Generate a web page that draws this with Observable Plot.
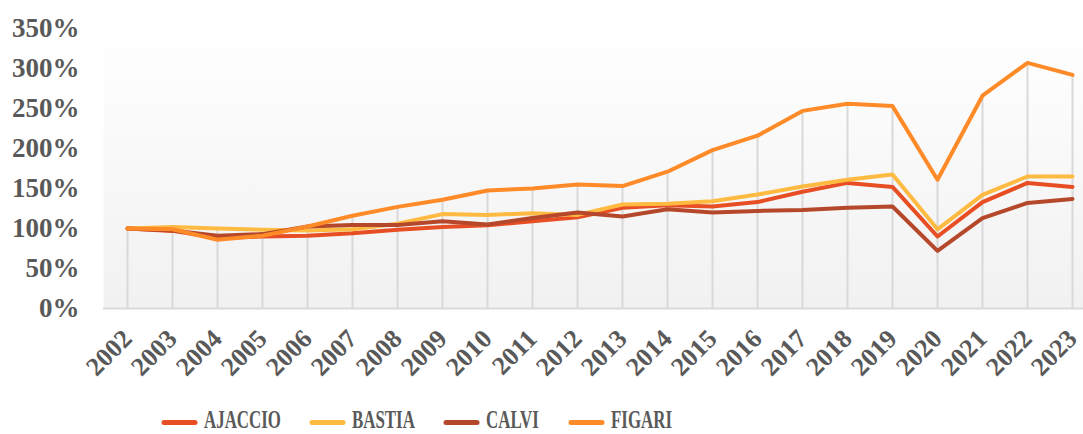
<!DOCTYPE html>
<html>
<head>
<meta charset="utf-8">
<script src="https://cdn.jsdelivr.net/npm/d3@7"></script>
<script src="https://cdn.jsdelivr.net/npm/@observablehq/plot@0.6"></script>
<style>
  html, body { margin: 0; padding: 0; background: #fff; }
  #wrap { position: relative; width: 1083px; height: 434px; overflow: hidden; }
  #chart svg { display: block; }
  #legend { position: absolute; left: 0; top: 404px; }
</style>
</head>
<body>
<div id="wrap">
  <div id="chart"></div>
  <svg id="legend" width="1083" height="30"></svg>
</div>
<script>
const years = [2002, 2003, 2004, 2005, 2006, 2007, 2008, 2009, 2010, 2011, 2012, 2013, 2014, 2015, 2016, 2017, 2018, 2019, 2020, 2021, 2022, 2023];
const seriesNames = ["AJACCIO", "BASTIA", "CALVI", "FIGARI"];
const ajaccio = [1.00, 0.97, 0.88, 0.90, 0.91, 0.94, 0.985, 1.02, 1.04, 1.09, 1.14, 1.26, 1.29, 1.275, 1.33, 1.46, 1.57, 1.52, 0.90, 1.33, 1.57, 1.52];
const bastia  = [1.00, 1.02, 1.00, 0.985, 0.975, 0.99, 1.06, 1.18, 1.17, 1.19, 1.17, 1.30, 1.31, 1.34, 1.425, 1.525, 1.61, 1.675, 0.99, 1.42, 1.65, 1.65];
const calvi   = [1.00, 0.975, 0.91, 0.93, 1.025, 1.045, 1.045, 1.09, 1.05, 1.13, 1.20, 1.15, 1.24, 1.20, 1.22, 1.23, 1.26, 1.275, 0.72, 1.13, 1.32, 1.37];
const figari  = [1.00, 0.99, 0.86, 0.91, 1.025, 1.16, 1.27, 1.36, 1.475, 1.50, 1.55, 1.53, 1.71, 1.98, 2.16, 2.47, 2.56, 2.53, 1.61, 2.66, 3.07, 2.92];
const yTicks = [0, 0.5, 1, 1.5, 2, 2.5, 3, 3.5];
const colors = ["#E84E23", "#FFBA42", "#B5482A", "#FF8A28"];

const seriesValues = [ajaccio, bastia, calvi, figari];
const data = [];
seriesNames.forEach((name, i) => {
  years.forEach((yr, j) => data.push({series: name, year: yr, value: seriesValues[i][j]}));
});
const drops = years.map((yr, j) => ({year: yr, top: d3.max(seriesValues, s => s[j])}));

const chart = Plot.plot({
  width: 1083,
  height: 404,
  marginLeft: 103,
  marginRight: 0,
  marginTop: 28,
  marginBottom: 96,
  style: { fontFamily: "'Liberation Serif', 'Times New Roman', serif", fontWeight: "bold", fontSize: "27px", color: "#595959", background: "#fff" },
  x: { type: "point", domain: years, range: [126, 1073], padding: 0 },
  y: { domain: [0, 3.5] },
  color: { domain: seriesNames, range: colors },
  marks: [
    Plot.frame({ fill: "url(#bgGrad)", stroke: "none" }),
    Plot.ruleX(drops, { x: "year", y1: 0, y2: "top", stroke: "#d9d9d9", strokeWidth: 2 }),
    Plot.ruleY([0], { stroke: "#d9d9d9", strokeWidth: 2 }),
    Plot.axisY(yTicks, { tickSize: 0, tickPadding: 24, tickFormat: d => Math.round(d * 100) + "%", fontSize: 27, label: null }),
    Plot.axisX(years, { tickSize: 0, tickPadding: 26, tickRotate: -45, tickFormat: d => String(d), fontSize: 26, label: null }),
    Plot.line(data, { x: "year", y: "value", z: "series", stroke: "series", strokeWidth: 4, strokeLinejoin: "round", strokeLinecap: "round" })
  ]
});

const svg = d3.select(chart);
const defs = svg.insert("defs", ":first-child");
const g = defs.append("linearGradient").attr("id", "bgGrad").attr("x1", 0).attr("y1", 0).attr("x2", 0).attr("y2", 1);
g.append("stop").attr("offset", "0%").attr("stop-color", "#ffffff");
g.append("stop").attr("offset", "100%").attr("stop-color", "#f1f1f1");
document.getElementById("chart").appendChild(chart);

// legend
const swLeft = [162, 310, 444, 569];
const leg = d3.select("#legend");
seriesNames.forEach((name, i) => {
  leg.append("line")
    .attr("x1", swLeft[i] + 2).attr("x2", swLeft[i] + 33)
    .attr("y1", 18.5).attr("y2", 18.5)
    .attr("stroke", colors[i]).attr("stroke-width", 5).attr("stroke-linecap", "round");
  leg.append("text")
    .attr("transform", `translate(${swLeft[i] + 42},24) scale(0.65,1)`)
    .attr("font-family", "'Liberation Serif', 'Times New Roman', serif")
    .attr("font-weight", "bold").attr("font-size", 26).attr("fill", "#595959")
    .text(name);
});
</script>
</body>
</html>
